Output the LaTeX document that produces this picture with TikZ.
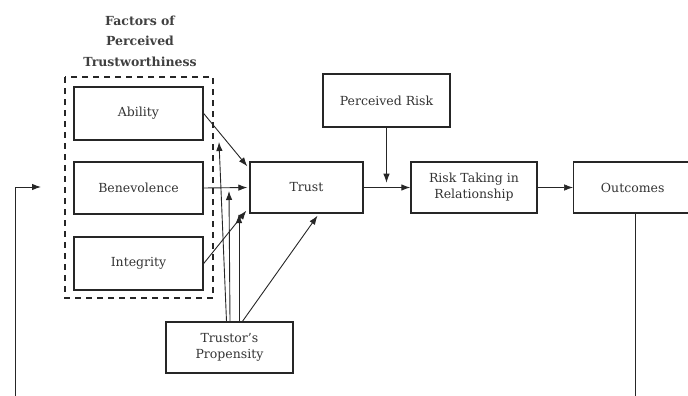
\documentclass[tikz,border=0pt]{standalone}
\usepackage{fontspec}
\setmainfont{DejaVu Serif}
\usetikzlibrary{arrows.meta,calc}
\begin{document}
\begin{tikzpicture}[x=1pt,y=-1pt,
  box/.style={draw=black!85,line width=1.4pt,inner sep=0pt,align=center,
    font=\fontsize{12.5}{16}\selectfont,text=black!80},
  conn/.style={draw=black!85,line width=0.9pt,-{Latex[length=9pt,width=6.5pt]}},
  plain/.style={draw=black!85,line width=0.9pt}]
\useasboundingbox (0,0) rectangle (688,396);
\node[font=\fontsize{12.5}{20.5}\selectfont\bfseries,text=black!75,align=center] (title) at (140,41) {Factors of\\Perceived\\Trustworthiness};
\draw[black!85,line width=1.5pt,dash pattern=on 6pt off 5pt] (65,77) rectangle (213,298);
\node[box,minimum width=129pt,minimum height=53pt] (ab) at (138.5,113.5) {Ability};
\node[box,minimum width=129pt,minimum height=52pt] (be) at (138.5,188) {Benevolence};
\node[box,minimum width=129pt,minimum height=53pt] (in) at (138.5,263.5) {Integrity};
\node[box,minimum width=113pt,minimum height=51pt] (tr) at (306.5,187.5) {Trust};
\node[box,minimum width=127pt,minimum height=53pt] (pk) at (386.5,100.5) {Perceived Risk};
\node[box,minimum width=126pt,minimum height=51pt] (rt) at (474,187.5) {Risk Taking in\\Relationship};
\node[box,minimum width=118pt,minimum height=51pt,anchor=west] (oc) at (573,187.5) {Outcomes};
\node[box,minimum width=127pt,minimum height=51pt] (pr) at (229.5,347.5) {Trustor's\\Propensity};
% factors to trust
\coordinate (abT) at ($(tr.north west)+(-2,5)$);
\coordinate (inT) at ($(tr.south west)+(-3,-3)$);
\draw[conn] (ab.east) -- (abT);
\draw[conn] (be.east) -- ($(tr.west)+(-2,0)$);
\draw[conn] (in.east) -- (inT);
% propensity
\coordinate (m1) at (219,142);
\coordinate (m2) at (229,191);
\coordinate (m3) at (239,214);
\draw[conn] ($(pr.north)+(-3,0)$) -- (m1);
\draw[conn] ($(pr.north)+(0.5,0)$) -- (m2);
\draw[conn] ($(pr.north)+(9.5,0)$) -- (m3);
\draw[conn] ($(pr.north)+(13,0)$) -- ($(tr.south)+(11,2)$);
% trust to risk taking
\draw[conn] (tr.east) -- (rt.west);
\coordinate (rk) at ($(pk.south)+(0,55)$);
\draw[conn] (pk.south) -- (rk);
\draw[conn,line width=0.6pt] (rt.east) -- (oc.west);
% feedback
\coordinate (ocB) at (635,397);
\coordinate (fbB) at (15,397);
\coordinate (fbT) at (15,187);
\coordinate (fbA) at (41,187);
\draw[plain] (oc.south -| ocB) -- (ocB);
\draw[plain] (fbB) -- (fbT);
\draw[conn] (fbT) -- (fbA);
\end{tikzpicture}
\end{document}
